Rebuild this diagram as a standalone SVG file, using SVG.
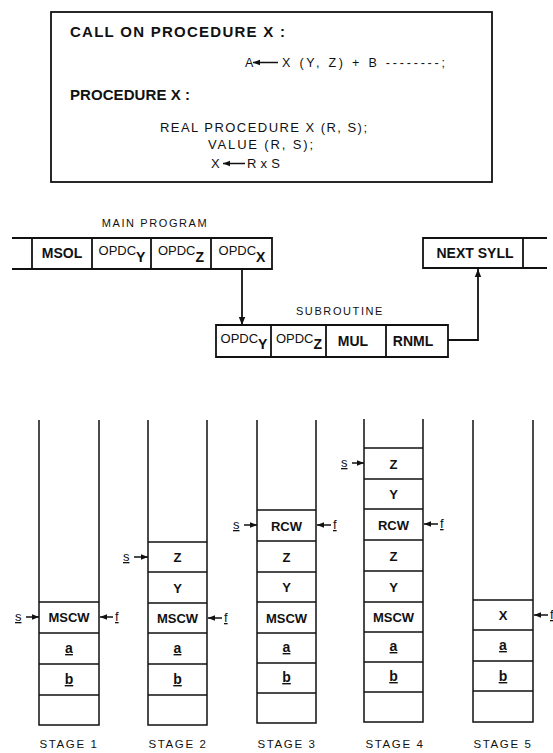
<svg xmlns="http://www.w3.org/2000/svg" width="553" height="753" viewBox="0 0 553 753">
<defs>
<style>
text{font-family:"Liberation Sans","DejaVu Sans",Arial,sans-serif;fill:#111}
.ln{stroke:#111;stroke-width:1.8;fill:none}
.st{stroke:#111;stroke-width:1.5;fill:none}
.t15b{font-size:15px;font-weight:bold}
.t13{font-size:13px}
.t12{font-size:12.5px}
.lbl{font-size:11px;letter-spacing:1.6px}
.cell{font-size:14px;font-weight:bold;text-anchor:middle}
.op{font-size:13px;text-anchor:middle}
.sub{font-size:14px;font-weight:bold}
.sc{font-size:13px;font-weight:bold;text-anchor:middle}
.ul{font-size:14px;font-weight:bold;text-anchor:middle;text-decoration:underline}
.pt{font-size:13px;text-decoration:underline}
.stg{font-size:11.5px;letter-spacing:1.6px;text-anchor:middle}
</style>
<marker id="ah" viewBox="0 0 10 10" refX="10" refY="5" markerWidth="8" markerHeight="8" markerUnits="userSpaceOnUse" orient="auto"><path d="M0,1 L10,5 L0,9 z" fill="#111"/></marker>
<marker id="as" viewBox="0 0 10 10" refX="10" refY="5" markerWidth="7" markerHeight="7" markerUnits="userSpaceOnUse" orient="auto"><path d="M0,1 L10,5 L0,9 z" fill="#111"/></marker>
</defs>
<rect width="553" height="753" fill="#fff"/>

<g id="code-box">
<rect x="51" y="12" width="441" height="170" class="ln" stroke-width="2"/>
<text x="70" y="37" class="t15b" textLength="215">CALL ON PROCEDURE X :</text>
<text x="245" y="67" class="t12">A</text>
<line x1="278" y1="62.5" x2="253" y2="62.5" class="st" marker-end="url(#as)"/>
<text x="282" y="67" class="t12" textLength="163">X (Y, Z) + B --------;</text>
<text x="70" y="100" class="t15b" textLength="120">PROCEDURE X :</text>
<text x="160" y="132" class="t13" textLength="207">REAL PROCEDURE  X (R, S);</text>
<text x="208" y="149" class="t13" textLength="105">VALUE (R, S);</text>
<text x="211" y="168" class="t13">X</text>
<line x1="245" y1="163.5" x2="223" y2="163.5" class="st" marker-end="url(#as)"/>
<text x="247" y="168" class="t13" textLength="33">R x S</text>
</g>

<g id="main-program">
<text x="155" y="227" class="lbl" text-anchor="middle">MAIN PROGRAM</text>
<path d="M12,238 H272 V269 H12 M32,238 V269 M92,238 V269 M151,238 V269 M211,238 V269" class="ln"/>
<text x="62" y="258" class="cell">MSOL</text>
<text x="122" y="255" class="op">OPDC<tspan class="sub" dy="7">Y</tspan></text>
<text x="181" y="255" class="op">OPDC<tspan class="sub" dy="7">Z</tspan></text>
<text x="242" y="255" class="op">OPDC<tspan class="sub" dy="7">X</tspan></text>
</g>

<g id="next-syll">
<path d="M547,238 H423 V268 H547 M523,238 V268" class="ln"/>
<text x="475" y="258" class="cell">NEXT SYLL</text>
</g>

<g id="subroutine">
<text x="340" y="315" class="lbl" text-anchor="middle">SUBROUTINE</text>
<path d="M216,325 H448 V357 H216 Z M271,325 V357 M326,325 V357 M386,325 V357" class="ln"/>
<text x="244" y="343" class="op">OPDC<tspan class="sub" dy="6">Y</tspan></text>
<text x="299" y="343" class="op">OPDC<tspan class="sub" dy="6">Z</tspan></text>
<text x="353" y="346" class="cell">MUL</text>
<text x="413" y="346" class="cell">RNML</text>
</g>

<g id="connectors">
<line x1="242" y1="269" x2="242" y2="325" class="ln" marker-end="url(#ah)"/>
<path d="M448,340 H478 V269" class="ln" marker-end="url(#ah)"/>
</g>

<g id="stage1">
<path d="M39,420 V725 H99 V420 M39,602 H99 M39,633 H99 M39,664 H99 M39,695 H99" class="st"/>
<text x="69" y="622" class="sc">MSCW</text>
<text x="69" y="653" class="ul">a</text>
<text x="69" y="684" class="ul">b</text>
<text x="15" y="621" class="pt">s</text>
<line x1="26" y1="617" x2="39" y2="617" class="st" marker-end="url(#as)"/>
<line x1="113" y1="617" x2="100" y2="617" class="st" marker-end="url(#as)"/>
<text x="115" y="621" class="pt">f</text>
<text x="69" y="748" class="stg">STAGE 1</text>
</g>

<g id="stage2">
<path d="M148,420 V725 H207 V420 M148,542 H207 M148,572 H207 M148,603 H207 M148,633 H207 M148,664 H207 M148,695 H207" class="st"/>
<text x="177.5" y="562" class="sc">Z</text>
<text x="177.5" y="592.5" class="sc">Y</text>
<text x="177.5" y="623" class="sc">MSCW</text>
<text x="177.5" y="653" class="ul">a</text>
<text x="177.5" y="684" class="ul">b</text>
<text x="123" y="561" class="pt">s</text>
<line x1="134" y1="557" x2="148" y2="557" class="st" marker-end="url(#as)"/>
<line x1="222" y1="618" x2="208" y2="618" class="st" marker-end="url(#as)"/>
<text x="224" y="622" class="pt">f</text>
<text x="178" y="748" class="stg">STAGE 2</text>
</g>

<g id="stage3">
<path d="M257,420 V723 H316 V420 M257,510 H316 M257,541 H316 M257,572 H316 M257,602 H316 M257,633 H316 M257,663 H316 M257,693 H316" class="st"/>
<text x="286.5" y="530.5" class="sc">RCW</text>
<text x="286.5" y="561.5" class="sc">Z</text>
<text x="286.5" y="592" class="sc">Y</text>
<text x="286.5" y="622.5" class="sc">MSCW</text>
<text x="286.5" y="652" class="ul">a</text>
<text x="286.5" y="682" class="ul">b</text>
<text x="233" y="529" class="pt">s</text>
<line x1="244" y1="525" x2="257" y2="525" class="st" marker-end="url(#as)"/>
<line x1="331" y1="525" x2="317" y2="525" class="st" marker-end="url(#as)"/>
<text x="333" y="529" class="pt">f</text>
<text x="287" y="748" class="stg">STAGE 3</text>
</g>

<g id="stage4">
<path d="M364,419 V722 H423 V419 M364,448 H423 M364,479 H423 M364,509 H423 M364,540 H423 M364,571 H423 M364,602 H423 M364,632 H423 M364,662 H423 M364,692 H423" class="st"/>
<text x="393.5" y="468.5" class="sc">Z</text>
<text x="393.5" y="499" class="sc">Y</text>
<text x="393.5" y="529.5" class="sc">RCW</text>
<text x="393.5" y="560.5" class="sc">Z</text>
<text x="393.5" y="591.5" class="sc">Y</text>
<text x="393.5" y="622" class="sc">MSCW</text>
<text x="393.5" y="651" class="ul">a</text>
<text x="393.5" y="681" class="ul">b</text>
<text x="341" y="467" class="pt">s</text>
<line x1="352" y1="463" x2="364" y2="463" class="st" marker-end="url(#as)"/>
<line x1="438" y1="524" x2="424" y2="524" class="st" marker-end="url(#as)"/>
<text x="440" y="528" class="pt">f</text>
<text x="395" y="748" class="stg">STAGE 4</text>
</g>

<g id="stage5">
<path d="M473,420 V722 H533 V420 M473,600 H533 M473,630 H533 M473,661 H533 M473,691 H533" class="st"/>
<text x="503" y="620" class="sc">X</text>
<text x="503" y="650" class="ul">a</text>
<text x="503" y="681" class="ul">b</text>
<line x1="548" y1="615" x2="534" y2="615" class="st" marker-end="url(#as)"/>
<text x="550" y="619" class="pt">f</text>
<text x="503" y="748" class="stg">STAGE 5</text>
</g>
</svg>
